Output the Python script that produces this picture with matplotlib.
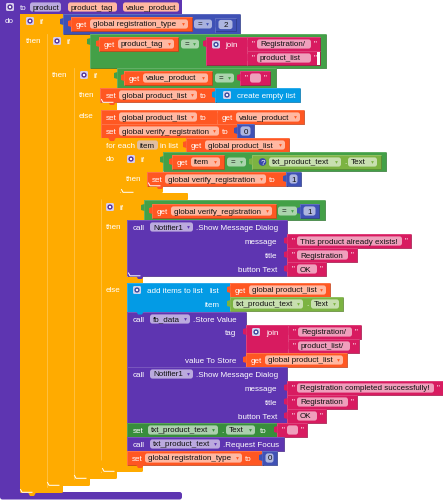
import matplotlib
matplotlib.use("Agg")
import matplotlib.pyplot as plt
from matplotlib.patches import Rectangle, FancyBboxPatch, Polygon, Circle
from matplotlib.colors import to_rgb

# block colours
PROC = "#5E35B1"; CTRL = "#FFAB00"; VAR = "#FF5722"; LOGIC = "#43A047"
MATH = "#3F51B5"; TEXTC = "#D81B60"; LIST = "#039BE5"; COMP = "#7CB342"; SETP = "#388E3C"
# labels
proc_params = ["product", "product_tag", "value_product"]
vars_global = ["global registration_type", "global product_list", "global verify_registration"]
lit_strings = ["Registration/", "product_list", "product_list/", "This product already exists!",
               "Registration completed successfully!", "Registration", "OK"]
numbers = ["2", "0", "1"]
comps = ["txt_product_text", "Notifier1", "fb_data"]

FS = 5.8
fig = plt.figure(figsize=(4.43, 5.0), dpi=100)
ax = fig.add_axes([0, 0, 1, 1])
ax.set_xlim(0, 443); ax.set_ylim(500, 0); ax.axis("off")
z = [1]


def mix(c, o, t):
    a, b = to_rgb(c), to_rgb(o)
    return tuple(a[i] * (1 - t) + b[i] * t for i in range(3))


def nz():
    z[0] += 1
    return z[0]


def R(x0, y0, x1, y1, c, edge=True):
    ax.add_patch(Rectangle((x0, y0), x1 - x0, y1 - y0, fc=c, ec="none", zorder=nz()))
    if edge:
        d = mix(c, "#000000", 0.22)
        ax.plot([x0, x1, x1], [y1 - .3, y1 - .3, y0], color=d, lw=.6, zorder=nz(), solid_capstyle="butt")
        ax.plot([x0, x0, x1], [y1, y0 + .3, y0 + .3], color=mix(c, "#ffffff", .3), lw=.4, zorder=nz())


def RR(x0, y0, x1, y1, c, r=3):
    ax.add_patch(FancyBboxPatch((x0, y0), x1 - x0, y1 - y0, boxstyle=f"round,pad=0,rounding_size={r}",
                                fc=c, ec="none", zorder=nz()))


def T(x, yc, s, c="white", ha="left"):
    ax.text(x, yc, s, color=c, fontsize=FS, family="Liberation Sans", ha=ha, va="center_baseline", zorder=nz())


def tab(x, y, c, h=14):
    ax.add_patch(Polygon([(x + .5, y + 3), (x - 3, y + 4), (x - 3, y + 9), (x + .5, y + 10)], fc=c, ec="none", zorder=nz()))


def notch(x, y, c):
    ax.add_patch(Polygon([(x + 4, y - .5), (x + 12, y - .5), (x + 10, y + 3), (x + 6, y + 3)], fc=c, ec="none", zorder=nz()))


def glow(x, y):
    ax.plot([x + .5, x + 2, x + 12], [y - 3.5, y - .7, y - .7], color="white", lw=.7, zorder=nz())


def pill(x0, x1, yc, c, s, drop=True, center=False):
    RR(x0, yc - 4.6, x1, yc + 4.6, mix(c, "#ffffff", .58), 2.5)
    if center:
        T((x0 + x1) / 2, yc, s, "#111111", "center")
    else:
        T(x0 + 3, yc, s, "#111111")
    if drop:
        ax.plot([x1 - 5], [yc - .2], marker="v", ms=2, color=c, mec="none", zorder=nz())


def icon(x, yc, c):
    RR(x - 4, yc - 4, x + 4, yc + 4, mix(c, "#ffffff", .75), 1.5)
    ax.add_patch(Circle((x, yc), 2.6, fc=mix(c, "#000000", .15), ec="none", zorder=nz()))
    ax.add_patch(Circle((x, yc), 1.2, fc="white", ec="none", zorder=nz()))


def getb(x0, x1, y, name):
    R(x0, y, x1, y + 14, VAR); tab(x0, y, VAR)
    T(x0 + 5, y + 7.3, "get")
    pill(x0 + 19, x1 - 4, y + 7, VAR, name)


def string(x0, x1, y, s):
    R(x0, y, x1, y + 14, TEXTC); tab(x0, y, TEXTC)
    T(x0 + 5, y + 6, '"')
    pill(x0 + 10, x1 - 9, y + 7, TEXTC, s, drop=False)
    T(x1 - 6, y + 6, '"')


def number(x0, x1, y, s):
    R(x0, y, x1, y + 14, MATH); tab(x0, y, MATH)
    pill(x0 + 3.5, x1 - 3.5, y + 7, MATH, s, drop=False, center=True)


def eq(x0, x1, y, c):
    RR(x0, y + 2.5, x1, y + 11.5, mix(c, "#ffffff", .55), 2.5)
    T(x0 + 3.5, y + 6.8, "=", "#111111")
    ax.plot([x1 - 5], [y + 7], marker="v", ms=2, color=c, mec="none", zorder=nz())


def setv(x0, x1, y, name, pill_end, to_x, c=VAR):
    R(x0, y, x1, y + 14, c)
    T(x0 + 5, y + 7.3, "set")
    pill(x0 + 18, pill_end, y + 7, c, name)
    T(to_x, y + 7.3, "to")


def if_head(x0, x1, y0, y1, ic_x):
    R(x0, y0, x1, y1, CTRL, edge=False)
    icon(ic_x, y0 + 7, PROC)
    T(ic_x + 10, y0 + 7.3, "if")


# ---- procedure frame
RR(0, 492, 182, 499.5, PROC, 2.5)
R(0, 0, 20, 496, PROC, edge=False)
R(0, 0, 182, 14, PROC, edge=False)
icon(10, 7, PROC)
T(20, 7.3, "to")
pill(30, 61, 7, PROC, proc_params[0], drop=False)
pill(68, 117, 7, VAR, proc_params[1], drop=False)
pill(123, 179, 7, VAR, proc_params[2], drop=False)
T(5, 20.5, "do")

# ---- nested control bars (outer to inner)
R(20, 14, 47, 490, CTRL, edge=False); if_head(20, 63, 14, 34, 30)
RR(20, 470, 63, 493, CTRL, 1.5); T(26, 40.5, "then")
R(47, 33, 74, 482, CTRL, edge=False); if_head(47, 90, 34, 68, 57)
RR(47, 462, 90, 486, CTRL, 1.5); T(52, 74.5, "then")
R(74, 68, 101, 476, CTRL, edge=False); if_head(74, 117, 68, 89, 84)
RR(74, 455, 117, 479, CTRL, 1.5); T(79, 94.5, "then"); T(79, 116, "else")
R(101, 103, 117, 110, CTRL, edge=False)
# separator lines
for x, y0, y1 in [(47, 34, 487), (74, 68, 479), (101, 110, 472)]:
    ax.plot([x, x], [y0, y1], color=mix(CTRL, "#ffffff", .35), lw=.5, zorder=nz())
notch(24, 493, CTRL); notch(51, 486, CTRL); notch(78, 479, CTRL)
glow(20, 493); glow(47, 486); glow(74, 479)

# ---- outer condition
R(63, 14, 240, 34, MATH); tab(63, 15, MATH)
getb(71, 192, 17, vars_global[0])
eq(194, 212, 17, MATH)
number(215, 236, 17.5, numbers[0])

# ---- second condition
R(90, 34, 326, 68, LOGIC); tab(90, 35, LOGIC)
getb(99, 178, 37, proc_params[1])
eq(181, 199, 37, LOGIC)
R(206, 37, 247, 65, TEXTC); tab(206, 37, TEXTC)
icon(216, 44.5, MATH); T(225, 44.8, "join")
string(247, 320, 37, lit_strings[0])
string(247, 320, 51, lit_strings[1])
R(317, 51.5, 320, 65, "white", edge=False)

# ---- third condition
R(117, 68, 276, 89, LOGIC); tab(117, 69, LOGIC)
getb(124, 212, 71, proc_params[2])
eq(215, 234, 71, LOGIC)
string(240, 270, 71, "")

# set product_list -> create empty list
R(100.5, 88, 216, 102, VAR); T(106, 95.3, "set")
pill(119, 197, 95, VAR, vars_global[1]); T(200, 95.3, "to")
R(215, 88, 300, 102, LIST); tab(215, 88, LIST)
icon(227, 95, MATH); T(237, 95.3, "create empty list")
notch(104, 102, VAR); glow(101, 103)

# else branch
setv(101, 218, 110, vars_global[1], 197, 200)
getb(217, 304, 110, proc_params[2])
setv(101, 237, 124, vars_global[2], 219, 222)
number(237, 254, 124, numbers[1])

# for each
R(101, 138, 120, 196, CTRL, edge=False)
R(101, 138, 188, 152, CTRL, edge=False)
notch(104, 138, VAR)
T(106, 145.3, "for each")
pill(137, 158, 145, "#B5651D", "item", drop=False)
T(160, 145.3, "in list")
getb(186, 289, 138, vars_global[1])
T(106, 158.5, "do")
RR(101, 193, 188, 200, CTRL, 1)
# inner if
R(120, 152, 147, 192, CTRL, edge=False); if_head(120, 163, 152, 172, 131)
RR(120, 180, 163, 193, CTRL, 1.5); T(126, 178.5, "then")
notch(126, 193, CTRL); glow(121, 193)
R(163, 152, 386, 171, LOGIC); tab(163, 153, LOGIC)
getb(172, 224, 155, "item")
eq(227, 246, 155, LOGIC)
R(252, 155, 381, 169, COMP); tab(252, 155, COMP)
ax.add_patch(Circle((262.5, 162), 3.8, fc="#3949AB", ec="none", zorder=nz()))
T(262.5, 162.2, "?", "white", "center")
pill(269, 341, 162, COMP, comps[0]); T(344, 162, ".")
pill(348, 377, 162, COMP, "Text")
setv(147, 287, 172, vars_global[2], 266, 269)
number(286, 301, 172, numbers[2])
notch(152, 186, VAR); glow(148, 186.5)

# verify if
R(101, 200, 127, 472, CTRL, edge=False); if_head(101, 144, 200, 220, 110)
ax.plot([101, 101], [200, 472], color=mix(CTRL, "#ffffff", .35), lw=.5, zorder=nz())
R(127, 277, 143, 283, CTRL, edge=False)
RR(101, 460, 143, 472, CTRL, 1.5); notch(105, 472, CTRL)
T(106, 226.5, "then"); T(106, 290, "else")
glow(102, 472)
R(144, 200, 325, 220, LOGIC); tab(144, 201, LOGIC)
getb(152, 276, 204, vars_global[2])
eq(278, 297, 204, LOGIC)
number(300, 319, 204, numbers[2])


def dialog(y, msg_x1, msg):
    R(127, y, 287, y + 56, PROC)
    T(132.5, y + 7.3, "call")
    pill(150, 193, y + 7, PROC, comps[1])
    T(196, y + 7.3, ".Show Message Dialog")
    rows = [("message", msg, msg_x1), ("title", lit_strings[5], 357), ("button Text", lit_strings[6], 326)]
    for i, (lbl, s, x1) in enumerate(rows):
        T(277, y + 21.3 + 14 * i, lbl, ha="right")
        string(287, x1, y + 14 + 14 * i, s)


dialog(220, 411, lit_strings[3])
notch(132, 276, PROC); glow(128, 276.5)

# add items to list
R(127, 283, 230, 312, LIST)
icon(137, 290, MATH)
T(147, 290.3, "add items to list"); T(210, 290.3, "list")
T(204.5, 304.3, "item")
getb(230, 330, 283, vars_global[1])
R(230, 297, 343, 311, COMP); tab(230, 297, COMP)
pill(233, 303, 304, COMP, comps[0]); T(306, 304, ".")
pill(311, 339, 304, COMP, "Text")

# fb_data store
R(127, 312, 246, 367, PROC)
notch(132, 311.5, LIST)
T(132.5, 319.3, "call")
pill(150, 190, 319, PROC, comps[2])
T(193, 319.3, ".Store Value")
T(236, 332.3, "tag", ha="right")
R(246, 325, 288, 353, TEXTC); tab(246, 325, TEXTC)
icon(256, 332, MATH); T(266, 332.3, "join")
string(288, 361, 325, lit_strings[0])
string(288, 359, 339, lit_strings[2])
T(236, 360.3, "value To Store", ha="right")
getb(246, 347, 353, vars_global[1])

dialog(367, 443, lit_strings[4])

# clear text
R(127, 423, 277, 437, SETP)
T(132.5, 430.3, "set")
pill(148, 218, 430, SETP, comps[0])
T(221, 430.3, ".")
pill(226, 255, 430, SETP, "Text")
T(260, 430.3, "to")
string(277, 307, 423, "")

# request focus
R(127, 437, 284, 451, PROC)
T(132.5, 444.3, "call")
pill(150, 220, 444, PROC, comps[0])
T(223, 444.3, ".Request Focus")

# set registration type
setv(127, 263, 451, vars_global[0], 242, 245)
number(262, 277, 451, numbers[1])
notch(132, 465, VAR)

fig.savefig("out.png", dpi=100)
